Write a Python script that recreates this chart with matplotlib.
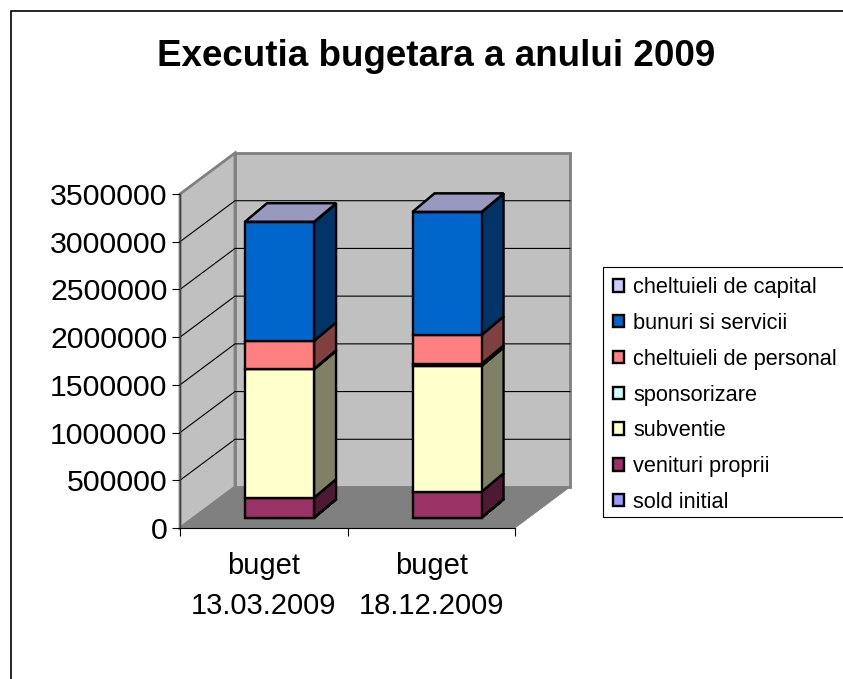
import matplotlib
matplotlib.use("Agg")
import matplotlib.pyplot as plt
from matplotlib.patches import Patch, Polygon, Rectangle
from matplotlib.colors import to_rgb

plt.rcParams["font.family"] = ["Liberation Sans", "DejaVu Sans"]

# =========================
# DATA
# =========================
title = "Executia bugetara a anului 2009"
categories = ["buget\n13.03.2009", "buget\n18.12.2009"]
y_ticks = [0, 500000, 1000000, 1500000, 2000000, 2500000, 3000000, 3500000]

# stack order, bottom to top
series = ["sold initial", "venituri proprii", "subventie", "sponsorizare",
          "cheltuieli de personal", "bunuri si servicii", "cheltuieli de capital"]
sold_initial = [3000, 3000]
venituri_proprii = [210000, 272000]
subventie = [1345000, 1318000]
sponsorizare = [5000, 22000]
personal = [293000, 303000]
bunuri = [1246000, 1287000]
capital = [2000, 2000]
values = [sold_initial, venituri_proprii, subventie, sponsorizare, personal, bunuri, capital]
colors = ["#9999FF", "#993366", "#FFFFCC", "#CCFFFF", "#FF8080", "#0066CC", "#CCCCFF"]

# =========================
# LAYOUT (pixels of the 843x679 picture)
# =========================
W, H = 843, 679
LEFT, RIGHT, TOP, BOTTOM = 180, 515, 194, 528
DEPTH_X, DEPTH_Y = 55, 41
BAR_WIDTH = 69 / 167.5   # in category units
BAR_D0 = 0.245
BAR_DX, BAR_DY = 22, 18.5
Y_MAX = 3500000

fig = plt.figure(figsize=(W / 100, H / 100), dpi=100, facecolor="white")
ax = fig.add_axes([LEFT / W, 1 - BOTTOM / H, (RIGHT - LEFT) / W, (BOTTOM - TOP) / H])
ax.set_xlim(0, len(categories))
ax.set_ylim(0, Y_MAX)
ax.patch.set_visible(False)

unit_x = len(categories) / (RIGHT - LEFT)
unit_y = Y_MAX / (BOTTOM - TOP)


def pt(x, y, d):
    # oblique projection: d=0 front plane, d=1 back wall
    return (x + d * DEPTH_X * unit_x, y + d * DEPTH_Y * unit_y)


def back(p):
    # back edge of a bar from its front edge
    return (p[0] + BAR_DX * unit_x, p[1] + BAR_DY * unit_y)


def shade(color, k):
    r, g, b = to_rgb(color)
    return (r * k, g * k, b * k)


def face(points, color, edge, lw, z):
    ax.add_patch(Polygon(points, closed=True, facecolor=color, edgecolor=edge,
                         linewidth=lw, clip_on=False, zorder=z, joinstyle="miter"))


# outer chart frame, runs off the right and bottom of the picture
fig.add_artist(Rectangle((11 / W, -0.1), 900 / W, 1.1 - 11 / H, transform=fig.transFigure,
                         facecolor="none", edgecolor="black", linewidth=1.2))

# =========================
# WALLS AND FLOOR
# =========================
n = len(categories)
face([pt(0, 0, 0), pt(0, Y_MAX, 0), pt(0, Y_MAX, 1), pt(0, 0, 1)], "#C0C0C0", "#808080", 2.0, 1)
face([pt(0, 0, 1), pt(0, Y_MAX, 1), pt(n, Y_MAX, 1), pt(n, 0, 1)], "#C0C0C0", "#808080", 2.0, 1)
# floor goes over the foot of the walls
face([pt(0, 0, 0), pt(n, 0, 0), pt(n, 0, 1), pt(0, 0, 1)], "#808080", "#808080", 0.5, 1.5)

for v in y_ticks[1:-1]:
    xs, ys = zip(pt(0, v, 0), pt(0, v, 1), pt(n, v, 1))
    ax.plot(xs, ys, color="black", linewidth=0.8, clip_on=False, zorder=2)

# =========================
# BARS
# =========================
for i in range(n):
    x0 = i + 0.5 - BAR_WIDTH / 2 + 0.014
    x1 = x0 + BAR_WIDTH
    base = 0
    for s in range(len(series)):
        top = base + values[s][i]
        c = colors[s]
        z = 3 + s
        fl, fr = pt(x0, base, BAR_D0), pt(x1, base, BAR_D0)
        tl, tr = pt(x0, top, BAR_D0), pt(x1, top, BAR_D0)
        face([fr, tr, back(tr), back(fr)], shade(c, 0.5), "black", 1.7, z)
        face([tl, tr, back(tr), back(tl)], shade(c, 0.75), "black", 1.7, z)
        face([fl, fr, tr, tl], c, "black", 1.7, z)
        base = top

# =========================
# AXES
# =========================
for side in ["top", "right"]:
    ax.spines[side].set_visible(False)
ax.spines["left"].set_color("#404040")
ax.spines["left"].set_linewidth(1.0)
ax.spines["bottom"].set_color("black")
ax.spines["bottom"].set_linewidth(0.8)
ax.spines["left"].set_zorder(20)
ax.spines["bottom"].set_zorder(20)

ax.set_yticks(y_ticks)
ax.set_yticklabels([str(v) for v in y_ticks])
ax.tick_params(axis="y", length=6, width=0.8, labelsize=21.8, pad=3)
ax.set_xticks(range(n + 1))
ax.set_xticklabels([])
ax.tick_params(axis="x", which="major", length=6, width=0.8)
ax.set_xticks([i + 0.5 for i in range(n)], minor=True)
ax.set_xticklabels(categories, minor=True, fontsize=21, linespacing=1.58)
ax.tick_params(axis="x", which="minor", length=0, pad=17)

fig.text(436 / W, 1 - 66 / H, title, ha="center", va="baseline", fontsize=26.5, fontweight="bold")

# =========================
# LEGEND
# =========================
fig.add_artist(Rectangle((603 / W, 1 - 517 / H), 300 / W, 250 / H, transform=fig.transFigure,
                         facecolor="white", edgecolor="black", linewidth=0.8))
handles = [Patch(facecolor=colors[s], edgecolor="black", linewidth=1.7, label=series[s])
           for s in range(len(series) - 1, -1, -1)]
leg = fig.legend(handles=handles, loc="upper left", bbox_to_anchor=(603 / W, 1 - 267 / H),
                 bbox_transform=fig.transFigure, fontsize=15.7, frameon=False,
                 borderaxespad=0, borderpad=0.46,
                 handlelength=0.5, handleheight=0.5, handletextpad=0.42, labelspacing=0.68)

plt.savefig("out.png", dpi=100)
